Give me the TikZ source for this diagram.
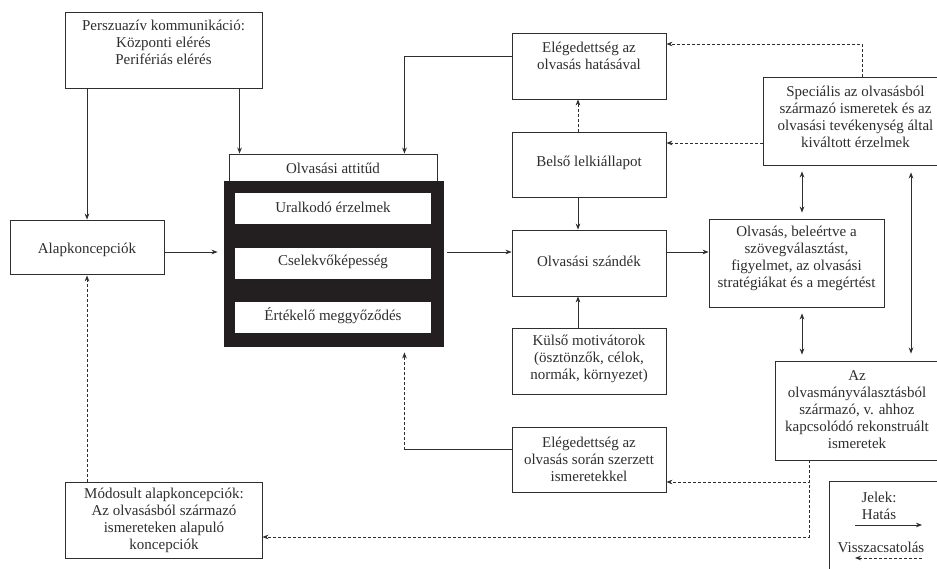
\documentclass[tikz,border=0pt]{standalone}
\usepackage{fontspec}
\setmainfont{Liberation Serif}
\usetikzlibrary{arrows.meta,calc}
\definecolor{ink}{HTML}{2E2E2E}
\definecolor{blk}{HTML}{231F20}
\begin{document}
\begin{tikzpicture}[x=1pt,y=-1pt,
  box/.style={draw=ink,line width=0.9pt,fill=white,inner sep=0pt},
  txt/.style={align=center,text=ink,inner sep=0pt,font=\fontsize{15}{17}\selectfont},
  arr/.style={draw=ink,line width=0.8pt,-{Stealth[length=6pt,width=4.6pt]}},
  darr/.style={draw=ink,line width=0.8pt,{Stealth[length=6pt,width=4.6pt]}-{Stealth[length=6pt,width=4.6pt]}},
  dsh/.style={dash pattern=on 3pt off 2pt}]
\useasboundingbox (0,0) rectangle (937,569);
\fill[white] (0,0) rectangle (937,569);
% boxes
\node[box,minimum width=197pt,minimum height=76pt] (persz) at (163.5,50) {};
\node[box,minimum width=154pt,minimum height=54pt] (alap) at (87,247) {};
\node[box,minimum width=208pt,minimum height=27pt] (att) at (333,167.5) {};
\node[box,draw=blk,fill=blk,minimum width=219pt,minimum height=165pt] (black) at (333.5,263.5) {};
\node[box,draw=none,minimum width=196pt,minimum height=31pt] (ural) at (333,208.5) {};
\node[box,draw=none,minimum width=196pt,minimum height=31pt] (csel) at (333,263.5) {};
\node[box,draw=none,minimum width=196pt,minimum height=31pt] (ertek) at (333,317.5) {};
\node[box,minimum width=154pt,minimum height=66pt] (eleg1) at (589,66) {};
\node[box,minimum width=154pt,minimum height=65pt] (belso) at (589,164.5) {};
\node[box,minimum width=154pt,minimum height=66pt] (szandek) at (589,263) {};
\node[box,minimum width=154pt,minimum height=66pt] (kulso) at (589,361) {};
\node[box,minimum width=154pt,minimum height=65pt] (eleg2) at (589,459.5) {};
\node[box,minimum width=185pt,minimum height=88pt] (spec) at (855.5,121) {};
\node[box,minimum width=175pt,minimum height=88pt] (olv) at (796.5,263) {};
\node[box,minimum width=166pt,minimum height=99pt] (azolv) at (858,410.5) {};
\node[box,minimum width=197pt,minimum height=76pt] (modos) at (163.5,520) {};
\node[box,minimum width=118pt,minimum height=96pt] (jelek) at (888,529) {};
% texts
\node[txt] (persz-t) at (163.5,42.5) {Perszuazív kommunikáció:\\Központi elérés\\Perifériás elérés};
\node[txt] (alap-t) at (87,250) {Alapkoncepciók};
\node[txt] (att-t) at (333,168) {Olvasási attitűd};
\node[txt] (ural-t) at (333,207) {Uralkodó érzelmek};
\node[txt] (csel-t) at (333,262) {Cselekvőképesség};
\node[txt] (ertek-t) at (333,316) {Értékelő meggyőződés};
\node[txt] (eleg1-t) at (589,55.5) {Elégedettség az\\olvasás hatásával};
\node[txt] (belso-t) at (589,163) {Belső lelkiállapot};
\node[txt] (szandek-t) at (589,261) {Olvasási szándék};
\node[txt] (kulso-t) at (589,359) {Külső motivátorok\\(ösztönzők, célok,\\normák, környezet)};
\node[txt] (eleg2-t) at (589,459) {Elégedettség az\\olvasás során szerzett\\ismeretekkel};
\node[txt] (spec-t) at (855.5,116.5) {Speciális az olvasásból\\származó ismeretek és az\\olvasási tevékenység által\\kiváltott érzelmek};
\node[txt] (olv-t) at (796.5,258.5) {Olvasás, beleértve a\\szövegválasztást,\\figyelmet, az olvasási\\stratégiákat és a megértést};
\node[txt] (azolv-t) at (857,410) {Az\\olvasmányválasztásból\\származó, v. ahhoz\\kapcsolódó rekonstruált\\ismeretek};
\node[txt] (modos-t) at (164,520.5) {Módosult alapkoncepciók:\\Az olvasásból származó\\ismereteken alapuló\\koncepciók};
\node[txt] (jelek-t) at (879,506) {Jelek:\\Hatás};
\node[txt] (vissza-t) at (881,547) {Visszacsatolás};
% helper coordinates
\coordinate (pa) at ([xshift=175pt]persz.south west);
\coordinate (pb) at ([xshift=11pt]att.north west);
\coordinate (ea) at ([yshift=10pt]eleg1.west);
\coordinate (eb) at ([xshift=-33pt]att.north east);
\coordinate (row) at (0,252);
\coordinate (e2a) at ([yshift=10pt]eleg2.west);
\coordinate (e2b) at (e2a -| eb);
\coordinate (sa) at ([xshift=6.5pt]spec.north);
\coordinate (sb) at ([yshift=22pt]eleg1.east);
\coordinate (sc) at ([yshift=-22pt]spec.west);
\coordinate (ba) at ([xshift=-11pt]belso.north);
\coordinate (bb) at ([xshift=-11pt]belso.south);
\coordinate (ka) at ([xshift=-11pt]kulso.north);
\coordinate (oa) at ([xshift=5.5pt]olv.north);
\coordinate (ob) at ([xshift=5.5pt]olv.south);
\coordinate (za) at ([xshift=53pt]azolv.north);
\coordinate (zb) at ([xshift=-49pt]azolv.south);
\coordinate (zc) at ([yshift=-22.5pt]eleg2.east);
\coordinate (zd) at ([yshift=-17pt]modos.east);
\coordinate (l1) at (855,525);
\coordinate (l2) at (922,525);
\coordinate (l3) at (922,558);
\coordinate (l4) at (855,558);
% connectors
\draw[arr] (persz.south -| alap.north) -- (alap.north);
\draw[arr] (pa) -- (pb);
\draw[arr] (ea) -| (eb);
\draw[arr,shorten >=6pt] (alap.east |- row) -- (black.west |- row);
\draw[arr,shorten <=4pt] (black.east |- row) -- (szandek.west |- row);
\draw[draw=ink,line width=0.8pt] (e2a) -- (e2b);
\draw[arr,dsh,shorten >=6pt] (e2b) -- (e2b |- black.south);
\draw[arr,dsh] (sa |- spec.north) |- (sb);
\draw[arr,dsh] (sc) -- (sc -| belso.east);
\draw[arr,dsh] (ba) -- (ba |- eleg1.south);
\draw[arr] (bb) -- (bb |- szandek.north);
\draw[arr] (ka) -- (ka |- szandek.south);
\draw[arr] (szandek.east |- row) -- (olv.west |- row);
\draw[darr,shorten <=6pt,shorten >=6pt] (oa |- spec.south) -- (oa);
\draw[darr,shorten <=6pt,shorten >=6pt] (ob) -- (ob |- azolv.north);
\draw[darr,shorten <=7pt,shorten >=7pt] (za |- spec.south) -- (za);
\draw[arr,dsh] (zb) |- (zc);
\draw[arr,dsh] (zb) |- (zd);
\draw[arr,dsh,shorten >=1pt] (modos.north -| alap.south) -- (alap.south);
\draw[arr] (l1) -- (l2);
\draw[arr,dsh] (l3) -- (l4);
\end{tikzpicture}
\end{document}
